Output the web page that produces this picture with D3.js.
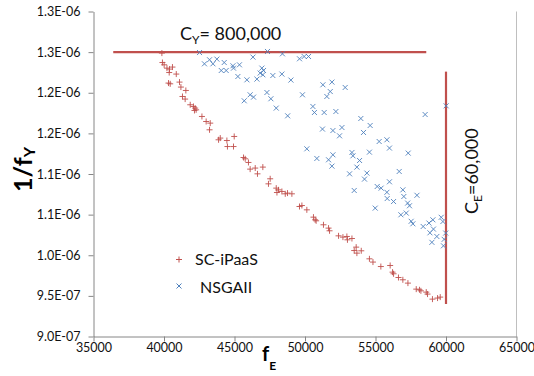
<!DOCTYPE html>
<html>
<head>
<meta charset="utf-8">
<script src="https://cdn.jsdelivr.net/npm/d3@7"></script>
<style>
  body { margin: 0; background: #fff; }
  svg { display: block; }
  text { font-family: Lato, "Open Sans", sans-serif; }
</style>
</head>
<body>
<svg id="chart" width="534" height="376"></svg>
<script>
// SC-iPaaS solutions: execution cost f_E and 1/f_Y
const scIpaasE = [39850, 39890, 40010, 40210, 40390, 40600, 40370, 40870, 40320, 40440,
  41100, 41200, 41550, 41310, 41500, 41860, 42090, 42210, 42280, 42160,
  42690, 42990, 43280, 43230, 43990, 43870, 44460, 44980, 44500, 44930,
  45640, 45760, 45990, 46110, 46470, 47010, 46630, 47530, 47410, 47960,
  48120, 48010, 48360, 48600, 48760, 49070, 49610, 49780, 50130, 50600,
  50720, 50790, 51310, 51670, 51740, 52380, 52690, 52970, 53010, 53330,
  53630, 53490, 53680, 53990, 54570, 54820, 55380, 56040, 56210, 56280,
  56630, 56940, 57300, 57890, 58120, 58220, 58600, 58690, 59040, 59400, 59590];
const scIpaasY = [1.2488e-6, 1.2372e-6, 1.2344e-6, 1.2303e-6, 1.2291e-6, 1.2316e-6, 1.2249e-6, 1.2230e-6, 1.2119e-6, 1.2110e-6,
  1.2131e-6, 1.2070e-6, 1.2028e-6, 1.1954e-6, 1.1922e-6, 1.1852e-6, 1.1831e-6, 1.1811e-6, 1.1790e-6, 1.1782e-6,
  1.1708e-6, 1.1646e-6, 1.1626e-6, 1.1544e-6, 1.1442e-6, 1.1421e-6, 1.1412e-6, 1.1462e-6, 1.1338e-6, 1.1338e-6,
  1.1203e-6, 1.1187e-6, 1.1142e-6, 1.1060e-6, 1.1073e-6, 1.1085e-6, 1.1002e-6, 1.0941e-6, 1.0879e-6, 1.0826e-6,
  1.0805e-6, 1.0772e-6, 1.0785e-6, 1.0756e-6, 1.0765e-6, 1.0756e-6, 1.0600e-6, 1.0612e-6, 1.0559e-6, 1.0469e-6,
  1.0436e-6, 1.0424e-6, 1.0375e-6, 1.0334e-6, 1.0301e-6, 1.0239e-6, 1.0223e-6, 1.0231e-6, 1.0190e-6, 1.0206e-6,
  1.0100e-6, 1.0058e-6, 1.0026e-6, 1.0055e-6, 0.9956e-6, 0.9916e-6, 0.9861e-6, 0.9874e-6, 0.9792e-6, 0.9772e-6,
  0.9726e-6, 0.9698e-6, 0.9657e-6, 0.9583e-6, 0.9575e-6, 0.9562e-6, 0.9546e-6, 0.9522e-6, 0.9460e-6, 0.9473e-6, 0.9485e-6];

// NSGAII solutions
const nsgaE = [42520, 42870, 43230, 43470, 43750, 44270, 44060, 44410, 44890, 44930,
  45350, 45240, 45880, 46310, 46590, 46820, 46940, 47060, 47010, 47340,
  47720, 48360, 48400, 49000, 46110, 46350, 45690, 47300, 47580, 47960,
  48770, 49610, 49940, 50250, 49820, 51270, 51910, 51790, 51550, 52850,
  50560, 50670, 51360, 52190, 53960, 54620, 54150, 58520, 60010, 51240,
  51980, 52620, 52450, 55260, 55810, 55990, 50130, 50840, 51670, 51980,
  51910, 53330, 53400, 53870, 54570, 57320, 53680, 53160, 54390, 54220,
  56680, 55990, 53490, 55120, 55400, 55810, 55830, 56280, 56940, 57010,
  57940, 57280, 57410, 57180, 56800, 54980, 57530, 57650, 58380, 58790,
  59070, 59110, 58860, 59350, 59000, 59660, 59780, 59980, 59870, 59820];
const nsgaY = [1.2495e-6, 1.2356e-6, 1.2406e-6, 1.2356e-6, 1.2414e-6, 1.2372e-6, 1.2274e-6, 1.2274e-6, 1.2332e-6, 1.2303e-6,
  1.2344e-6, 1.2200e-6, 1.2159e-6, 1.2439e-6, 1.2168e-6, 1.2242e-6, 1.2303e-6, 1.2274e-6, 1.2221e-6, 1.2508e-6,
  1.2212e-6, 1.2230e-6, 1.2479e-6, 1.2156e-6, 1.1975e-6, 1.1946e-6, 1.1901e-6, 1.2003e-6, 1.1926e-6, 1.1811e-6,
  1.1716e-6, 1.2418e-6, 1.2446e-6, 1.2446e-6, 1.1975e-6, 1.2098e-6, 1.2131e-6, 1.2015e-6, 1.1954e-6, 1.2065e-6,
  1.1831e-6, 1.1757e-6, 1.1757e-6, 1.1769e-6, 1.1683e-6, 1.1597e-6, 1.1511e-6, 1.1732e-6, 1.1839e-6, 1.1553e-6,
  1.1535e-6, 1.1572e-6, 1.1470e-6, 1.1400e-6, 1.1421e-6, 1.1319e-6, 1.1310e-6, 1.1191e-6, 1.1175e-6, 1.1236e-6,
  1.1097e-6, 1.1265e-6, 1.1224e-6, 1.1166e-6, 1.1269e-6, 1.1257e-6, 1.1085e-6, 1.1002e-6, 1.1011e-6, 1.0937e-6,
  1.1031e-6, 1.0904e-6, 1.0797e-6, 1.0846e-6, 1.0826e-6, 1.0775e-6, 1.0698e-6, 1.0661e-6, 1.0805e-6, 1.0723e-6,
  1.0738e-6, 1.0642e-6, 1.0609e-6, 1.0519e-6, 1.0498e-6, 1.0580e-6, 1.0418e-6, 1.0387e-6, 1.0354e-6, 1.0396e-6,
  1.0436e-6, 1.0322e-6, 1.0276e-6, 1.0231e-6, 1.0159e-6, 1.0467e-6, 1.0415e-6, 1.0273e-6, 1.0196e-6, 1.0116e-6];

const seriesNames = ["SC-iPaaS", "NSGAII"];

// Axis ticks
const xTicks = [35000, 40000, 45000, 50000, 55000, 60000, 65000];
const yTicks = [9.0e-7, 9.5e-7, 1.0e-6, 1.05e-6, 1.1e-6, 1.15e-6, 1.2e-6, 1.25e-6, 1.3e-6];
const yTickLabels = ["9.0E-07", "9.5E-07", "1.0E-06", "1.1E-06", "1.1E-06", "1.2E-06", "1.2E-06", "1.3E-06", "1.3E-06"];

// Constraints: C_Y = 800,000 (as 1/C_Y) and C_E = 60,000
const cyValue = 1 / 800000;
const cyExtentE = [36400, 58600];
const ceValue = 60000;
const ceExtentY = [9.4e-7, 1.226e-6];

const red = "#C0504D", blue = "#4F81BD";

const svg = d3.select("#chart");
const x = d3.scaleLinear().domain([35000, 65000]).range([93.5, 516.5]);
const y = d3.scaleLinear().domain([9.0e-7, 1.3e-6]).range([336.5, 11.5]);

// Right border of the plot area
svg.append("line")
  .attr("x1", x(65000)).attr("x2", x(65000))
  .attr("y1", y(1.3e-6)).attr("y2", y(9.0e-7))
  .attr("stroke", "#BFBFBF").attr("stroke-width", 1);

// Axes
const xAxis = svg.append("g")
  .attr("transform", `translate(0,${y(9.0e-7)})`)
  .call(d3.axisBottom(x).tickValues(xTicks).tickFormat(d => String(d))
    .tickSize(5).tickSizeOuter(0).tickPadding(2));
const yAxis = svg.append("g")
  .attr("transform", `translate(${x(35000)},0)`)
  .call(d3.axisLeft(y).tickValues(yTicks).tickFormat((d, i) => yTickLabels[i])
    .tickSize(5).tickSizeOuter(0).tickPadding(8));
[xAxis, yAxis].forEach(g => {
  g.select(".domain").attr("stroke", "#868686");
  g.selectAll(".tick line").attr("stroke", "#868686");
  g.selectAll(".tick text").attr("fill", "#111").style("font-size", "12.5px")
    .style("font-family", "Lato, sans-serif");
});

// Constraint lines
svg.append("line")
  .attr("x1", x(cyExtentE[0])).attr("x2", x(cyExtentE[1]))
  .attr("y1", y(cyValue)).attr("y2", y(cyValue))
  .attr("stroke", red).attr("stroke-width", 2.2);
svg.append("line")
  .attr("x1", x(ceValue)).attr("x2", x(ceValue))
  .attr("y1", y(ceExtentY[1])).attr("y2", y(ceExtentY[0]))
  .attr("stroke", red).attr("stroke-width", 2.2);

// Markers
const plusPath = "M-3,0H3M0,-3V3";
const crossPath = "M-2.5,-2.5L2.5,2.5M-2.5,2.5L2.5,-2.5";

const scData = scIpaasE.map((e, i) => ({ e, v: scIpaasY[i] }));
const nsData = nsgaE.map((e, i) => ({ e, v: nsgaY[i] }));

svg.append("g").selectAll("path").data(nsData).join("path")
  .attr("d", crossPath)
  .attr("transform", d => `translate(${x(d.e)},${y(d.v)})`)
  .attr("fill", "none").attr("stroke", blue).attr("stroke-width", 1)
  .attr("stroke-opacity", 0.9);

svg.append("g").selectAll("path").data(scData).join("path")
  .attr("d", plusPath)
  .attr("transform", d => `translate(${x(d.e)},${y(d.v)})`)
  .attr("fill", "none").attr("stroke", red).attr("stroke-width", 1)
  .attr("stroke-opacity", 0.9);

// Constraint labels
const cyLabel = svg.append("text").attr("x", 180).attr("y", 40)
  .attr("fill", "#111").style("font-size", "18px");
cyLabel.append("tspan").text("C");
cyLabel.append("tspan").attr("dy", 4).style("font-size", "12px").text("Y");
cyLabel.append("tspan").attr("dy", -4).text("= 800,000");

const ceLabel = svg.append("text").attr("transform", "translate(478,214) rotate(-90)")
  .attr("fill", "#111").style("font-size", "18px");
ceLabel.append("tspan").text("C");
ceLabel.append("tspan").attr("dy", 4).style("font-size", "12px").text("E");
ceLabel.append("tspan").attr("dy", -4).text("=60,000");

// Axis titles
const yTitle = svg.append("text").attr("transform", "translate(32,192) rotate(-90)")
  .attr("fill", "#000").style("font-weight", "bold").style("font-size", "25px");
yTitle.append("tspan").text("1/f");
yTitle.append("tspan").attr("dy", 3).style("font-size", "16px").text("Y");

const xTitle = svg.append("text").attr("x", 262).attr("y", 361)
  .attr("fill", "#000").style("font-weight", "bold").style("font-size", "20px");
xTitle.append("tspan").text("f");
xTitle.append("tspan").attr("dy", 9).style("font-size", "12px").text("E");

// Legend
const legend = svg.append("g");
const legendItems = [
  { name: seriesNames[0], path: plusPath, color: red, mx: 179, my: 259.5, tx: 195, ty: 264.5 },
  { name: seriesNames[1], path: crossPath, color: blue, mx: 179, my: 286, tx: 200, ty: 293 }
];
legendItems.forEach(it => {
  legend.append("path").attr("d", it.path)
    .attr("transform", `translate(${it.mx},${it.my})`)
    .attr("fill", "none").attr("stroke", it.color).attr("stroke-width", 1);
  legend.append("text").attr("x", it.tx).attr("y", it.ty)
    .attr("fill", "#111").style("font-size", "16px").text(it.name);
});
</script>
</body>
</html>
